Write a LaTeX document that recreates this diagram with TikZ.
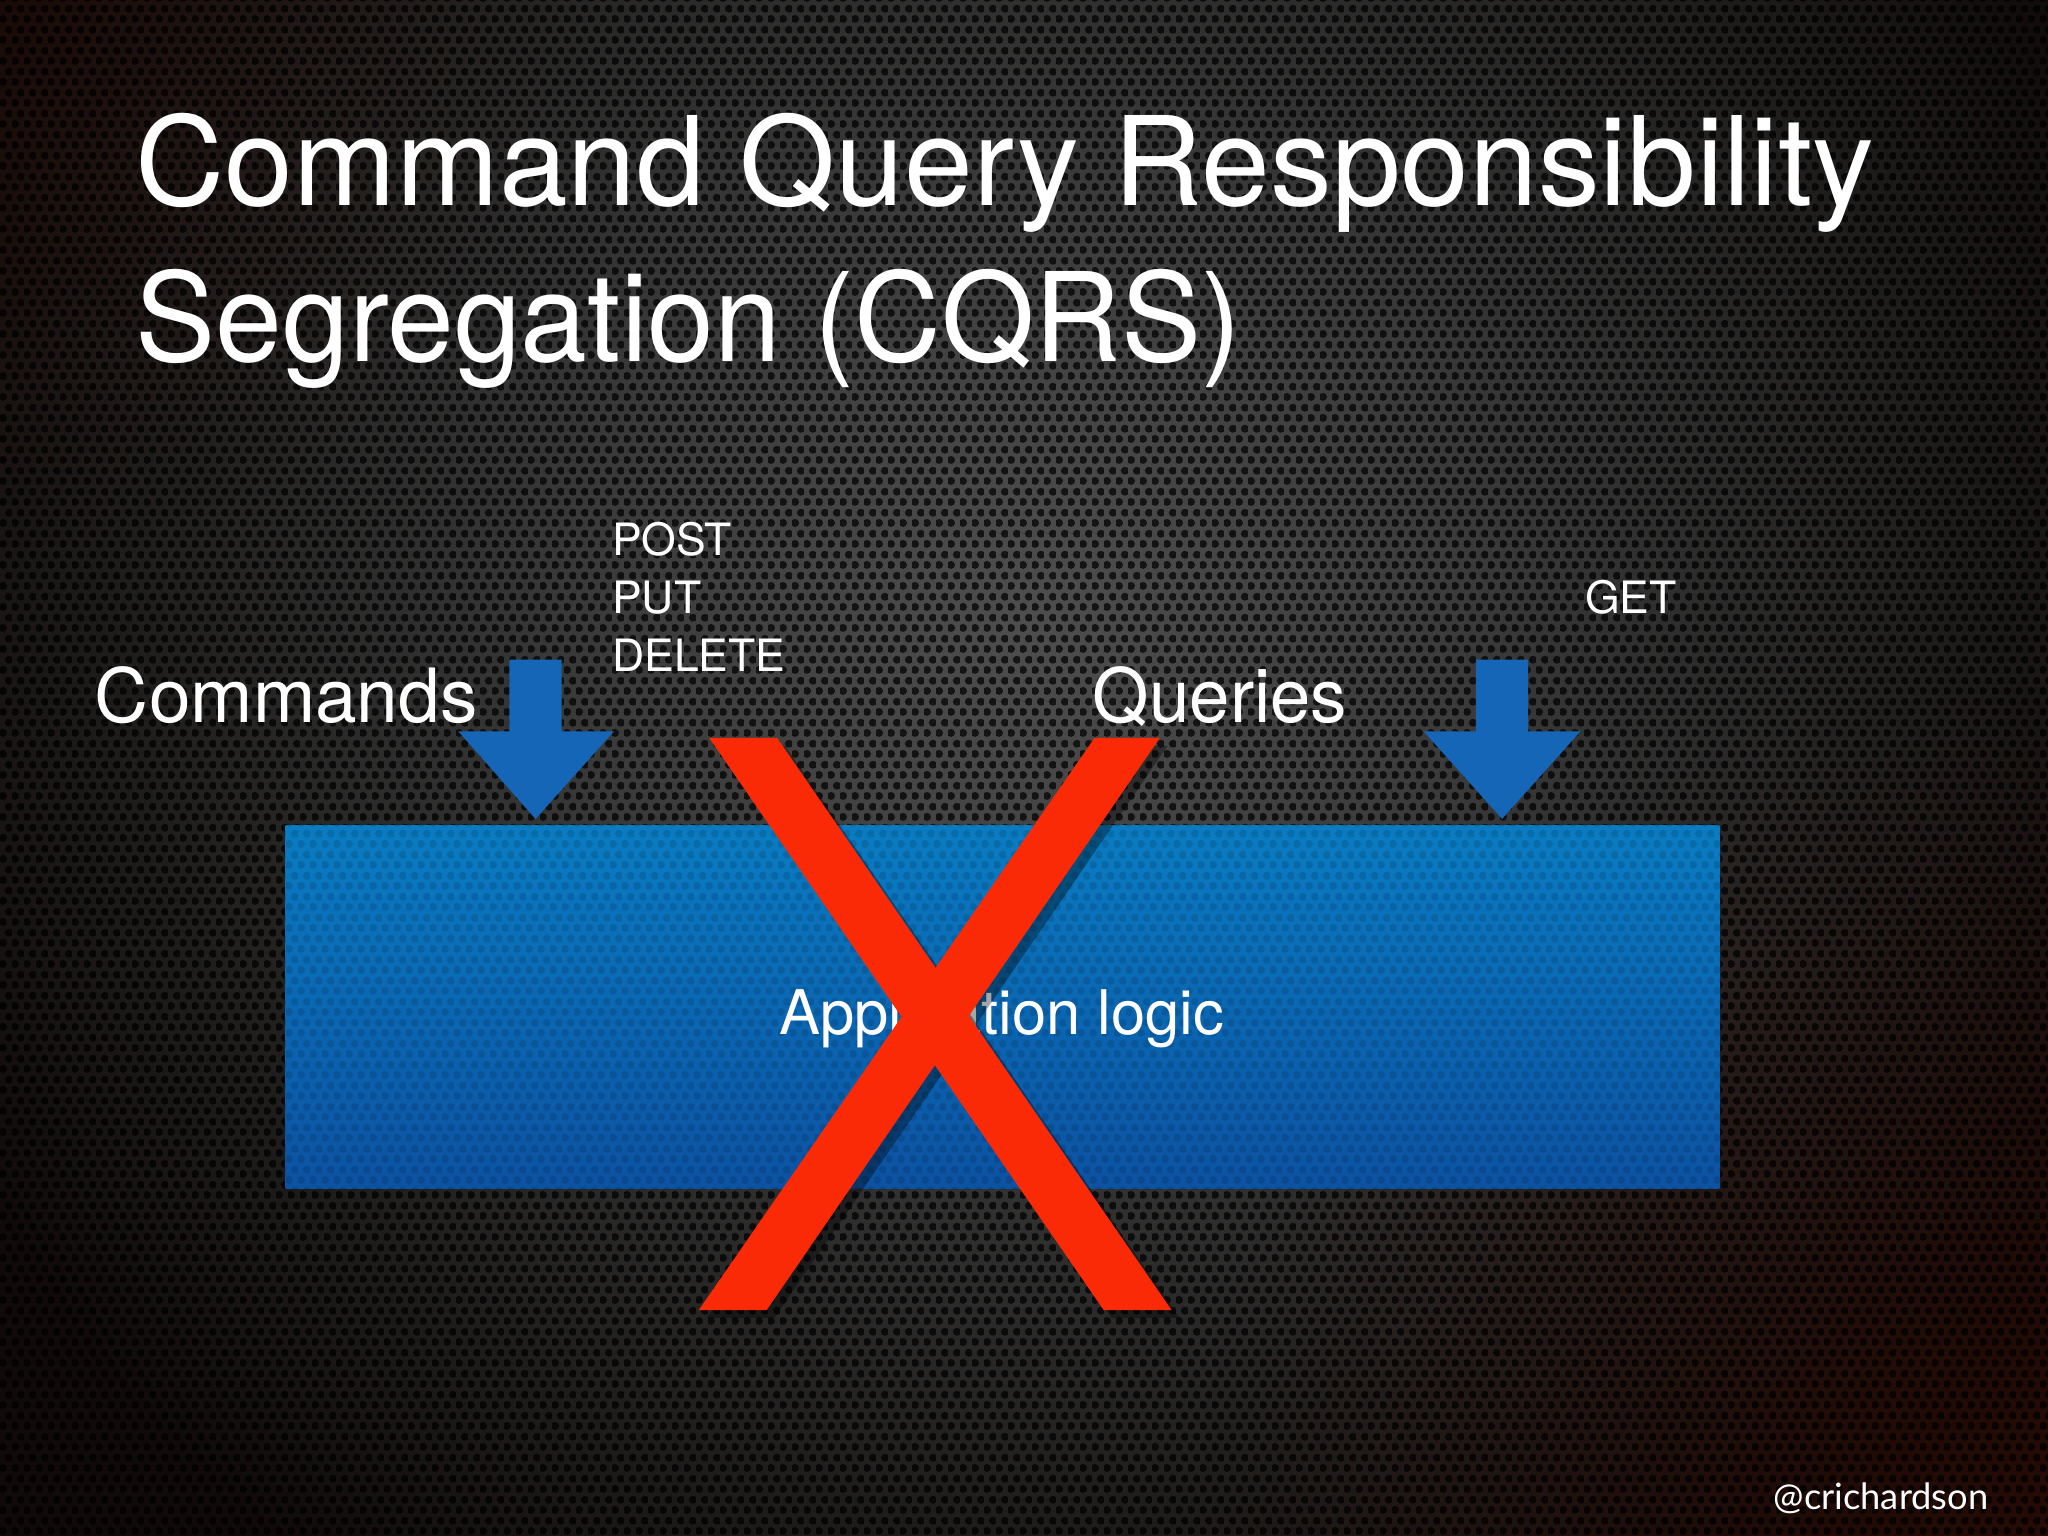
\documentclass[tikz,border=0pt]{standalone}
\usepackage{fontspec}
\setmainfont{TeX Gyre Heros}
\newfontfamily\handlefont{Lato}
\usetikzlibrary{patterns,fadings}
\definecolor{bgA}{HTML}{4E4E4E}
\definecolor{bgB}{HTML}{3A3A3A}
\definecolor{bgM}{HTML}{222120}
\definecolor{bgC}{HTML}{100B0A}
\definecolor{bgRed}{HTML}{2C0C05}
\definecolor{arrowblue}{HTML}{1566B6}
\definecolor{boxtop}{HTML}{0A7CC2}
\definecolor{boxbot}{HTML}{0C52A2}
\definecolor{xred}{HTML}{FA2A06}
\pgfdeclareradialshading{bgshade}{\pgfpoint{0bp}{0bp}}{color(0bp)=(bgA); color(9bp)=(bgB); color(17bp)=(bgM); color(24bp)=(bgC); color(50bp)=(bgC)}
\tikzfading[name=redglow, inner color=transparent!0, outer color=transparent!100]
\pgfdeclarepatternformonly{holes}{\pgfpointorigin}{\pgfpoint{2.6pt}{4.5pt}}{\pgfpoint{2.6pt}{4.5pt}}{%
  \pgfpathcircle{\pgfpoint{0.65pt}{1.125pt}}{0.88pt}%
  \pgfpathcircle{\pgfpoint{1.95pt}{3.375pt}}{0.88pt}%
  \pgfusepath{fill}}
\tikzset{
  ttl/.style={anchor=base west, inner sep=0pt, text=white, font=\fontsize{26.9}{32}\selectfont},
  lbl/.style={anchor=base west, inner sep=0pt, text=white, font=\fontsize{16.3}{20}\selectfont},
  verb/.style={anchor=base west, inner sep=0pt, text=white, font=\fontsize{9.7}{12}\selectfont},
  blockarrow/.style={fill=arrowblue},
  xstroke/.style={fill=xred},
  xshadow/.style={fill=black, fill opacity=0.35},
  appbox/.style={rectangle, inner sep=0pt, minimum width=10.97cm, minimum height=2.78cm, top color=boxtop, bottom color=boxbot},
}
\begin{document}
\begin{tikzpicture}[x=0.01cm,y=-0.01cm]
\useasboundingbox (0,0) rectangle (1568,1176);
% background
\begin{scope}
  \clip (0,0) rectangle (1568,1176);
  \fill[bgC] (0,0) rectangle (1568,1176);
  \shade[shading=bgshade] (-160,-480) rectangle (1740,1420);
  \fill[bgRed, path fading=redglow, fill opacity=0.8] (1568,1176) circle (650);
  \fill[bgRed, path fading=redglow, fill opacity=0.4] (0,0) circle (420);
  \fill[pattern=holes, pattern color=black, fill opacity=0.72] (0,0) rectangle (1568,1176);
\end{scope}
% title
\node[ttl] (title1) at (103,157) {Command Query Responsibility};
\node[ttl, xscale=0.972] (title2) at (103,277) {Segregation (CQRS)};
% application box
\node[appbox] (app) at (767.5,771) {};
\fill[pattern=holes, pattern color=black, fill opacity=0.12] (app.north west) rectangle (app.south east);
% arrows
\coordinate (cmdtip) at (410,627);
\coordinate (qrytip) at (1150,627);
\fill[blockarrow] (390,505) -- (430,505) -- (430,560) -- (470,560) -- (cmdtip) -- (351,560) -- (390,560) -- cycle;
\fill[blockarrow] (1130,505) -- (1170,505) -- (1170,560) -- (1210,560) -- (qrytip) -- (1090,560) -- (1130,560) -- cycle;
% labels
\node[lbl] (commands) at (72,553) {Commands};
\node[lbl, xscale=0.97] (queries) at (836,553) {Queries};
\node[verb] (post) at (468,425) {POST};
\node[verb] (put) at (468,470) {PUT};
\node[verb] (delete) at (468,514) {DELETE};
\node[verb] (get) at (1213,470) {GET};
\node[anchor=base, inner sep=0pt, text=white, font=\fontsize{13.4}{16}\selectfont] (applabel) at (767,792) {Application logic};
% red X
\fill[xshadow] (549,571) -- (601,571) -- (903,1009) -- (851,1009) -- cycle;
\fill[xshadow] (844,571) -- (894,571) -- (593,1009) -- (541,1009) -- cycle;
\fill[xstroke] (543,565) -- (595,565) -- (897,1003) -- (845,1003) -- cycle;
\fill[xstroke] (838,565) -- (888,565) -- (587,1003) -- (535,1003) -- cycle;
% handle
\node[anchor=base east, inner sep=0pt, text=white, font=\handlefont\fontsize{7.9}{10}\selectfont] (handle) at (1523,1156) {@crichardson};
\end{tikzpicture}
\end{document}
